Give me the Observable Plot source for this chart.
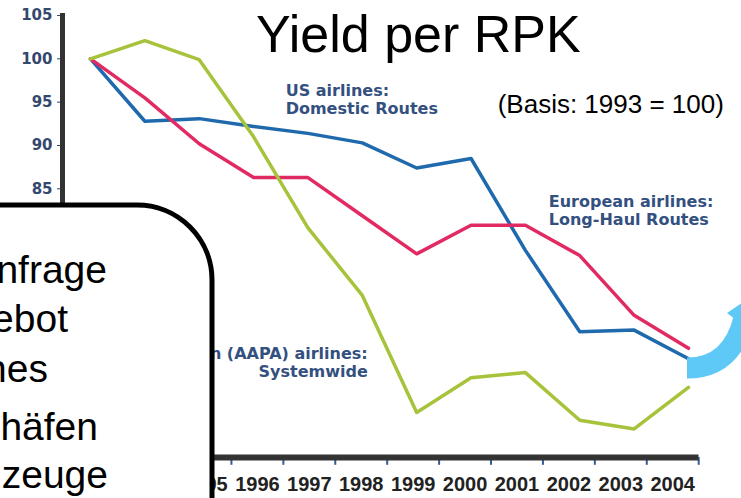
<!DOCTYPE html>
<html><head><meta charset="utf-8">
<script src="https://cdn.jsdelivr.net/npm/d3@7"></script>
<script src="https://cdn.jsdelivr.net/npm/@observablehq/plot@0.6"></script>
<style>body{margin:0;background:#fff;overflow:hidden} svg{display:block}</style>
</head><body><div id="chart"></div>
<script>
// ---- data ----
const years = [1993, 1994, 1995, 1996, 1997, 1998, 1999, 2000, 2001, 2002, 2003, 2004];
const usDomestic     = [100, 92.8, 93.1, 92.2, 91.4, 90.3, 87.4, 88.5, 77.9, 68.5, 68.7, 65.4];
const europeLongHaul = [100, 95.5, 90.2, 86.3, 86.3, 81.9, 77.5, 80.8, 80.8, 77.3, 70.4, 66.6];
const asiaSystemwide = [100, 102.1, 99.9, 91.0, 80.5, 72.7, 59.2, 63.2, 63.8, 58.3, 57.3, 62.1];
const seriesNames = ["US airlines: Domestic Routes", "European airlines: Long-Haul Routes", "Asian (AAPA) airlines: Systemwide"];
// tick labels that are not hidden by the text box
const yTicks = [85, 90, 95, 100, 105];
const xTickYears = [1995, 1996, 1997, 1998, 1999, 2000, 2001, 2002, 2003, 2004];
const xTickLabels = ["1995", "1996", "1997", "1998", "1999", "2000", "2001", "2002", "2003", "2004"];
const boxLines = ["nfrage", "ebot", "nes", "häfen", "zeuge"];
const title = "Yield per RPK";
const subtitle = "(Basis: 1993 = 100)";
const annUS = "US airlines:\nDomestic Routes";
const annEU = "European airlines:\nLong-Haul Routes";
const annAS = "Asian (AAPA) airlines:\nSystemwide";

const rows = years.flatMap((year, i) => [
  {year, value: usDomestic[i], series: seriesNames[0]},
  {year, value: europeLongHaul[i], series: seriesNames[1]},
  {year, value: asiaSystemwide[i], series: seriesNames[2]}
]);
// category axis of the original is slightly narrower than the plotted data
const axisPos = y => 1996.07 + (y - 1996) * 0.955;
const boundaries = years.map(y => y + 0.5).filter(b => b > 1995);

const annStyle = {fontSize: 16, fontWeight: "bold", fill: "#34507f", fontFamily: "DejaVu Sans", lineHeight: 1.15, lineAnchor: "top"};

const plot = Plot.plot({
  width: 741, height: 498,
  marginTop: 15, marginBottom: 41, marginLeft: 62, marginRight: 46,
  x: {domain: [1993, 2004], range: [90, 688], axis: null},
  y: {domain: [54, 105], range: [457, 15], axis: null},
  color: {domain: seriesNames, range: ["#1f69ad", "#e22a62", "#a6c33b"]},
  style: {fontFamily: "'Liberation Sans', Arial, sans-serif", background: "white", overflow: "visible"},
  marks: [
    Plot.axisY(yTicks, {tickSize: 5, tickPadding: 5, fontSize: 15, fontWeight: "bold", fill: "#34486e", stroke: "#34486e", fontFamily: "DejaVu Sans", label: null}),
    Plot.ruleX(boundaries, {x: d => axisPos(d), y1: 54, y2: 53.1, stroke: "#2d5f96", strokeWidth: 2}),
    Plot.frame({anchor: "left", stroke: "#333", strokeWidth: 5}),
    Plot.frame({anchor: "bottom", stroke: "#333", strokeWidth: 6}),
    Plot.text(xTickYears, {x: d => axisPos(d), y: 54, dy: 27, text: (d, i) => xTickLabels[i], fontSize: 20, fontWeight: "bold", fill: "#222"}),
    Plot.line(rows, {x: "year", y: "value", stroke: "series", strokeWidth: 3.5}),
    Plot.text([annUS], {x: 1996.59, y: 97.27, textAnchor: "start", ...annStyle}),
    Plot.text([annEU], {x: 2001.43, y: 84.46, textAnchor: "start", ...annStyle}),
    Plot.text([annAS], {x: 1998.10, y: 66.92, textAnchor: "end", ...annStyle}),
    Plot.text([title], {x: 1999.03, y: 105, lineAnchor: "top", fontSize: 52, fill: "#000"}),
    Plot.text([subtitle], {x: 2000.49, y: 95.83, lineAnchor: "top", textAnchor: "start", fontSize: 26, fill: "#000"})
  ]
});
document.getElementById("chart").appendChild(plot);

// ---- slide decorations on top ----
const svg = d3.select(plot);
// curved light-blue arrow
svg.append("path").attr("d", "M687,368 C718,368 736,350 744,318")
  .attr("fill", "none").attr("stroke", "#5ec8f7").attr("stroke-width", 21);
svg.append("polygon").attr("points", "727,313 790,270 770,345").attr("fill", "#5ec8f7");
// rounded text box
svg.append("path").attr("d", "M-10,205 H137 A75,75 0 0 1 212,280 V530 H-10 Z")
  .attr("fill", "white").attr("stroke", "#000").attr("stroke-width", 5);
const lineEnds = [107, 68, 48, 98, 108];
const lineBaselines = [283, 332, 382, 440, 488];
svg.append("g").selectAll("text").data(boxLines).join("text")
  .attr("x", (d, i) => lineEnds[i]).attr("y", (d, i) => lineBaselines[i])
  .attr("text-anchor", "end").attr("font-size", 39)
  .attr("font-family", "'Liberation Sans', Arial, sans-serif").attr("fill", "#000")
  .text(d => d);
</script></body></html>
